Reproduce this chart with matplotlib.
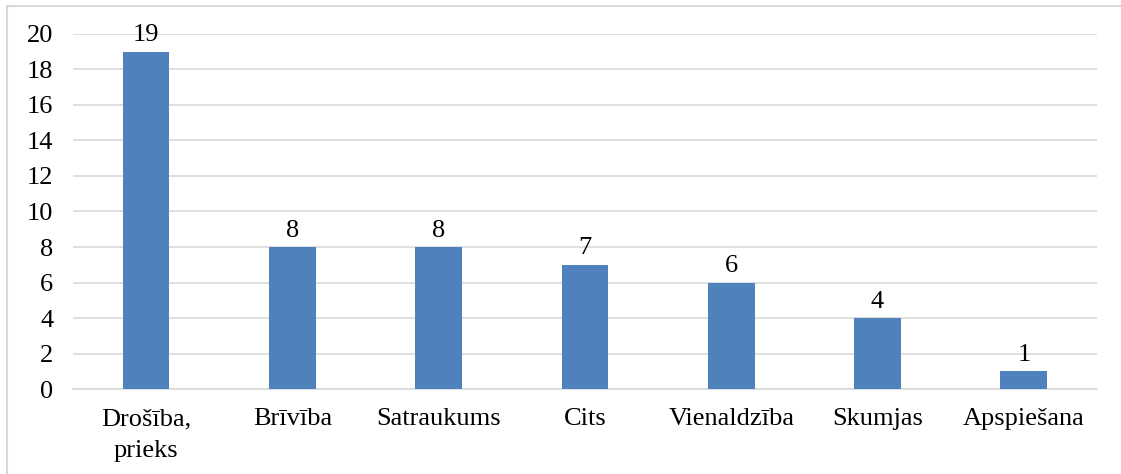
import matplotlib.pyplot as plt
import numpy as np
from matplotlib.lines import Line2D

categories = ['Drošība,\nprieks', 'Brīvība', 'Satraukums', 'Cits', 'Vienaldzība', 'Skumjas', 'Apspiešana']
values = [19, 8, 8, 7, 6, 4, 1]

plt.rcParams['font.family'] = ['Liberation Serif', 'DejaVu Serif']

fig = plt.figure(figsize=(11.21, 4.74), dpi=100)
ax = fig.add_axes([0.065, 0.1793, 0.9136, 0.749])

x = np.arange(len(categories))
bars = ax.bar(x, values, width=0.32, color='#4F81BD', zorder=3)

for xi, v in zip(x, values):
    ax.text(xi, v + 0.3, str(v), ha='center', va='bottom', fontsize=19)

ax.set_xlim(-0.5, len(categories) - 0.5)
ax.set_ylim(0, 20)
ax.set_yticks(np.arange(0, 21, 2))
ax.set_xticks(x)
ax.set_xticklabels(categories, fontsize=19, linespacing=1.55, va='top')
ax.tick_params(axis='y', labelsize=19, length=0, pad=14)
ax.tick_params(axis='x', length=0, pad=14)
ax.grid(axis='y', color='#D9D9D9', linewidth=1.2, zorder=0)
for s in ['top', 'right', 'left']:
    ax.spines[s].set_visible(False)
ax.spines['bottom'].set_color('#D9D9D9')
ax.spines['bottom'].set_linewidth(1.2)

# outer chart border, only top and left edges are inside the image
bx = 6.5 / 1121
by = 1 - 5.5 / 474
fig.add_artist(Line2D([bx, 1.0], [by, by], transform=fig.transFigure, color='#D9D9D9', linewidth=1.5))
fig.add_artist(Line2D([bx, bx], [0.0, by], transform=fig.transFigure, color='#D9D9D9', linewidth=1.5))

fig.savefig('out.png', dpi=100)
